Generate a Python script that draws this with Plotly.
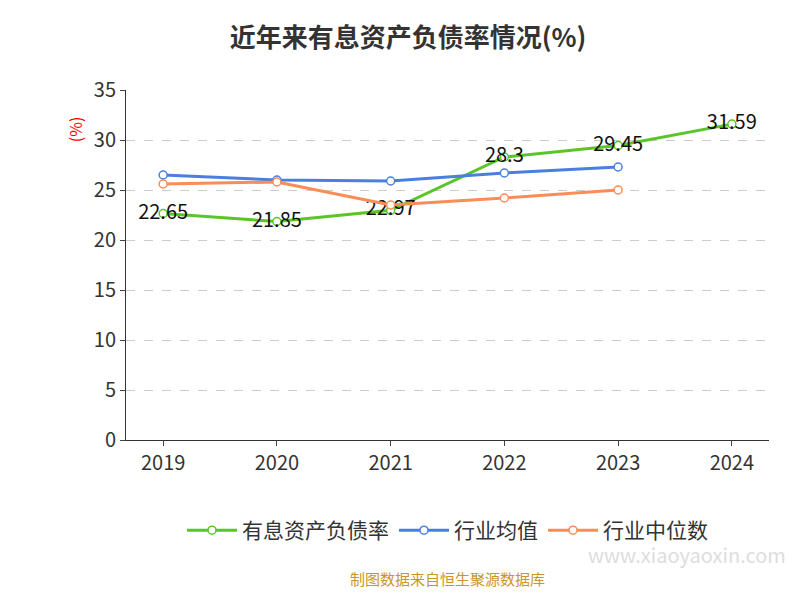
import plotly.graph_objects as go

years = ["2019", "2020", "2021", "2022", "2023", "2024"]
debt = [22.65, 21.85, 22.97, 28.3, 29.45, 31.59]
ind_avg = [26.5, 26.0, 25.9, 26.7, 27.3]
ind_med = [25.6, 25.8, 23.5, 24.2, 25.0]

fig = go.Figure()
fig.add_trace(go.Scatter(x=years, y=debt, name="有息资产负债率", mode="lines+markers+text",
    text=[str(v) for v in debt], textposition="middle center", textfont=dict(size=20, color="#111"),
    line=dict(color="#5ac528", width=3), marker=dict(size=8, color="white", line=dict(color="#5ac528", width=1.5))))
fig.add_trace(go.Scatter(x=years[:5], y=ind_avg, name="行业均值", mode="lines+markers",
    line=dict(color="#4a7fe0", width=3), marker=dict(size=8, color="white", line=dict(color="#4a7fe0", width=1.5))))
fig.add_trace(go.Scatter(x=years[:5], y=ind_med, name="行业中位数", mode="lines+markers",
    line=dict(color="#fa8c55", width=3), marker=dict(size=8, color="white", line=dict(color="#fa8c55", width=1.5))))
fig.update_layout(
    width=800, height=600, plot_bgcolor="white", paper_bgcolor="white",
    font=dict(family="Noto Sans CJK SC", color="#333"),
    title=dict(text="<b>近年来有息资产负债率情况(%)</b>", x=0.5, xanchor="center", y=0.965, font=dict(size=26, color="#333")),
    margin=dict(l=118, r=39, t=82, b=168),
    xaxis=dict(showline=True, linecolor="#333", ticks="outside", tickfont=dict(size=20), showgrid=False),
    yaxis=dict(range=[0, 35], dtick=5, showline=True, linecolor="#333", ticks="outside", tickfont=dict(size=20),
               gridcolor="#ccc", griddash="dash", zeroline=False),
    legend=dict(orientation="h", x=0.5, xanchor="center", y=-0.2, yanchor="top", font=dict(size=21),
                itemwidth=50),
    showlegend=True,
)
fig.add_annotation(text="(%)", x=-0.1, y=0.93, xref="paper", yref="paper", textangle=-90,
                   showarrow=False, font=dict(size=16, color="red"), yanchor="top")
fig.add_annotation(text="制图数据来自恒生聚源数据库", x=0.5, y=-0.43, xref="paper", yref="paper",
                   showarrow=False, font=dict(size=15, color="#c8962a"))
fig.add_annotation(text="www.xiaoyaoxin.com", x=1.03, y=-0.375, xref="paper", yref="paper", xanchor="right",
                   showarrow=False, font=dict(size=20, color="#ddd"))
fig.write_html("out.html")
